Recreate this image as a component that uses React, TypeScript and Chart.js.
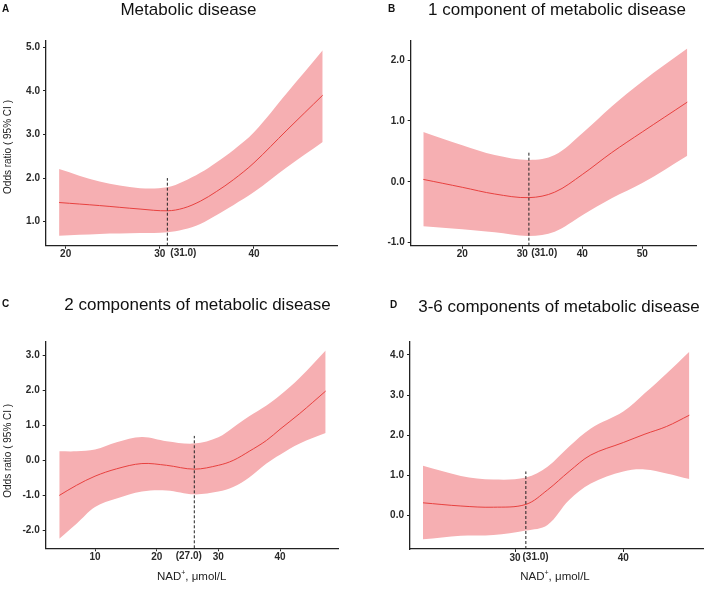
import { useEffect, useRef } from "react";
import { Chart, registerables } from "chart.js";

Chart.register(...registerables);

const FONT = "'Liberation Sans', Arial, Helvetica, sans-serif";
const BAND = "#F6AFB2";
const LINE = "#E8413F";
const INK = "#2a2a2a";

// ---- Panel A: Metabolic disease ----
const xA = [19.3, 23.6, 27.9, 30.8, 32.5, 34.3, 36.0, 37.8, 40.0, 43.5, 47.3];
const fitA = [1.44, 1.37, 1.29, 1.25, 1.31, 1.47, 1.69, 1.96, 2.35, 3.1, 3.9];
const upA = [2.21, 1.92, 1.77, 1.79, 1.92, 2.12, 2.36, 2.64, 3.05, 3.95, 4.93];
const lowA = [0.68, 0.72, 0.74, 0.76, 0.82, 0.95, 1.15, 1.38, 1.68, 2.25, 2.83];
const xTicksA = [20, 30, 40];
const yTicksA = [1, 2, 3, 4, 5];

// ---- Panel B: 1 component ----
const xB = [13.5, 20, 25.4, 31.1, 35.4, 40, 44.9, 50, 57.5];
const fitB = [0.04, -0.09, -0.2, -0.26, -0.17, 0.12, 0.48, 0.82, 1.31];
const upB = [0.82, 0.6, 0.44, 0.36, 0.44, 0.8, 1.24, 1.65, 2.19];
const lowB = [-0.73, -0.78, -0.83, -0.89, -0.82, -0.55, -0.27, -0.02, 0.43];
const xTicksB = [20, 30, 40, 50];
const yTicksB = [-1, 0, 1, 2];

// ---- Panel C: 2 components ----
const xC = [4.2, 7.0, 10, 13.5, 17.6, 21.6, 26.1, 30, 32.4, 35, 37.8, 40, 43.2, 47.4];
const fitC = [-1.01, -0.72, -0.46, -0.25, -0.1, -0.15, -0.26, -0.15, -0.01, 0.25, 0.56, 0.88, 1.33, 1.97];
const upC = [0.25, 0.25, 0.3, 0.51, 0.66, 0.54, 0.47, 0.65, 0.93, 1.25, 1.56, 1.85, 2.35, 3.13];
const lowC = [-2.25, -1.82, -1.34, -1.1, -0.9, -0.87, -0.98, -0.9, -0.77, -0.5, -0.1, 0.15, 0.47, 0.77];
const xTicksC = [10, 20, 30, 40];
const yTicksC = [-2, -1, 0, 1, 2, 3];

// ---- Panel D: 3-6 components ----
const xD = [21.5, 25, 28, 31, 33, 35, 37, 40, 42, 44, 46.1];
const fitD = [0.32, 0.24, 0.21, 0.28, 0.64, 1.1, 1.51, 1.82, 2.03, 2.22, 2.5];
const upD = [1.24, 0.99, 0.9, 0.95, 1.22, 1.72, 2.17, 2.59, 3.05, 3.54, 4.08];
const lowD = [-0.59, -0.5, -0.48, -0.37, -0.23, 0.39, 0.8, 1.1, 1.15, 1.05, 0.91];
const xTicksD = [30, 40];
const yTicksD = [0, 1, 2, 3, 4];

const TITLES = [
  "Metabolic disease",
  "1 component of metabolic disease",
  "2 components of metabolic disease",
  "3-6 components of metabolic disease",
];
const LETTERS = ["A", "B", "C", "D"];
const KNOTS = [30.8, 31.1, 26.1, 31.0];
const KNOT_TOPS = [2.0, 0.49, 0.69, 1.1];
const KNOT_LABELS = ["(31.0)", "(31.0)", "(27.0)", "(31.0)"];
const KNOT_LABEL_AT = [32.5, 33.65, 25.2, 31.9];
const X_RANGES = [
  [17.91, 48.82],
  [11.4, 59.07],
  [2.0, 49.45],
  [20.3, 47.39],
];
const Y_RANGES = [
  [0.45, 5.15],
  [-1.05, 2.32],
  [-2.52, 3.38],
  [-0.83, 4.33],
];
const Y_TITLE = "Odds ratio ( 95% CI )";
const X_TITLE_MAIN = "NAD";
const X_TITLE_SUP = "+";
const X_TITLE_REST = ", μmol/L";

type Layout = {
  left: number;
  top: number;
  w: number;
  h: number;
  areaL: number;
  areaT: number;
  areaR: number;
  areaB: number;
  letterX: number;
  letterY: number;
  titleX: number;
  titleY: number;
  yTitle: boolean;
  yTitleX: number;
  yTitleY: number;
  xTitle: boolean;
  xTitleX: number;
  xTitleY: number;
};

const LAYOUTS: Layout[] = [
  { left: 0, top: 0, w: 355, h: 292, areaL: 46, areaT: 40.7, areaR: 337, areaB: 245.7,
    letterX: 2, letterY: 11.7, titleX: 188.5, titleY: 15, yTitle: true, yTitleX: 8, yTitleY: 147,
    xTitle: false, xTitleX: 0, xTitleY: 0 },
  { left: 355, top: 0, w: 354, h: 292, areaL: 55.7, areaT: 40.7, areaR: 341.7, areaB: 245.7,
    letterX: 33, letterY: 11.7, titleX: 202, titleY: 15, yTitle: false, yTitleX: 0, yTitleY: 0,
    xTitle: false, xTitleX: 0, xTitleY: 0 },
  { left: 0, top: 292, w: 355, h: 300, areaL: 45.7, areaT: 49.7, areaR: 338.3, areaB: 256.3,
    letterX: 2, letterY: 14.5, titleX: 197.5, titleY: 18, yTitle: true, yTitleX: 8, yTitleY: 158.8,
    xTitle: true, xTitleX: 191.7, xTitleY: 285 },
  { left: 355, top: 292, w: 354, h: 300, areaL: 55, areaT: 49.7, areaR: 348.3, areaB: 257,
    letterX: 35, letterY: 15.7, titleX: 204, titleY: 19.5, yTitle: false, yTitleX: 0, yTitleY: 0,
    xTitle: true, xTitleX: 200, xTitleY: 285 },
];

type Series = { x: number[]; fit: number[]; up: number[]; low: number[]; xTicks: number[]; yTicks: number[] };
const SERIES: Series[] = [
  { x: xA, fit: fitA, up: upA, low: lowA, xTicks: xTicksA, yTicks: yTicksA },
  { x: xB, fit: fitB, up: upB, low: lowB, xTicks: xTicksB, yTicks: yTicksB },
  { x: xC, fit: fitC, up: upC, low: lowC, xTicks: xTicksC, yTicks: yTicksC },
  { x: xD, fit: fitD, up: upD, low: lowD, xTicks: xTicksD, yTicks: yTicksD },
];

function pts(xs: number[], ys: number[]) {
  return xs.map((x, i) => ({ x, y: ys[i] }));
}

function makeTextPlugin(i: number) {
  const L = LAYOUTS[i];
  return {
    id: "panelText" + i,
    afterDraw(chart: any) {
      const { ctx, chartArea } = chart;
      ctx.save();
      ctx.fillStyle = "#111";
      ctx.textBaseline = "alphabetic";
      ctx.textAlign = "left";
      ctx.font = `bold 10px ${FONT}`;
      ctx.fillText(LETTERS[i], L.letterX, L.letterY);
      ctx.font = `17px ${FONT}`;
      ctx.textAlign = "center";
      ctx.fillText(TITLES[i], L.titleX, L.titleY);

      const xs = chart.scales.x;
      ctx.fillStyle = INK;
      ctx.font = `bold 10px ${FONT}`;
      ctx.textBaseline = "top";
      ctx.fillText(KNOT_LABELS[i], xs.getPixelForValue(KNOT_LABEL_AT[i]), chartArea.bottom + 3);

      ctx.fillStyle = "#222";
      if (L.yTitle) {
        ctx.save();
        ctx.translate(L.yTitleX, L.yTitleY);
        ctx.rotate(-Math.PI / 2);
        ctx.textBaseline = "middle";
        ctx.textAlign = "center";
        ctx.font = `10px ${FONT}`;
        ctx.fillText(Y_TITLE, 0, 0);
        ctx.restore();
      }
      if (L.xTitle) {
        ctx.textBaseline = "middle";
        ctx.textAlign = "left";
        const big = `11.5px ${FONT}`;
        const small = `7px ${FONT}`;
        ctx.font = big;
        const w1 = ctx.measureText(X_TITLE_MAIN).width;
        const w3 = ctx.measureText(X_TITLE_REST).width;
        ctx.font = small;
        const w2 = ctx.measureText(X_TITLE_SUP).width;
        const total = w1 + w2 + w3;
        const x0 = L.xTitleX - total / 2;
        ctx.font = big;
        ctx.fillText(X_TITLE_MAIN, x0, L.xTitleY);
        ctx.font = small;
        ctx.fillText(X_TITLE_SUP, x0 + w1, L.xTitleY - 3.5);
        ctx.font = big;
        ctx.fillText(X_TITLE_REST, x0 + w1 + w2, L.xTitleY);
      }
      ctx.restore();
    },
  };
}

function makeConfig(i: number): any {
  const L = LAYOUTS[i];
  const S = SERIES[i];
  const [xmin, xmax] = X_RANGES[i];
  const [ymin, ymax] = Y_RANGES[i];
  const clear = "rgba(0,0,0,0)";
  const curve = { cubicInterpolationMode: "default", tension: 0.35 };
  return {
    type: "line",
    data: {
      datasets: [
        { data: pts(S.x, S.low), borderColor: clear, borderWidth: 1, pointRadius: 0, fill: false, ...curve, order: 3 },
        { data: pts(S.x, S.up), borderColor: clear, borderWidth: 1, pointRadius: 0, fill: "-1",
          backgroundColor: BAND, ...curve, order: 2 },
        { data: pts(S.x, S.fit), borderColor: LINE, borderWidth: 1, pointRadius: 0, fill: false, ...curve, order: 1 },
        { data: [ { x: KNOTS[i], y: ymin }, { x: KNOTS[i], y: KNOT_TOPS[i] } ], borderColor: "#222",
          borderWidth: 1, borderDash: [3, 2], pointRadius: 0, fill: false, tension: 0, order: 0 },
      ],
    },
    options: {
      responsive: false,
      animation: false,
      events: [],
      layout: { padding: { left: 0, top: L.areaT, right: L.w - L.areaR, bottom: 0 } },
      plugins: { legend: { display: false }, tooltip: { enabled: false }, title: { display: false } },
      scales: {
        x: {
          type: "linear",
          min: xmin,
          max: xmax,
          afterBuildTicks: (s: any) => { s.ticks = S.xTicks.map((v) => ({ value: v })); },
          afterFit: (s: any) => { s.height = L.h - L.areaB; },
          grid: { display: true, drawOnChartArea: false, drawTicks: true, tickLength: 3, color: "#222", lineWidth: 1 },
          border: { display: true, color: "#222", width: 1.3 },
          ticks: { font: { family: FONT, size: 10, weight: "bold" }, color: INK, padding: 0, maxRotation: 0, autoSkip: false,
            callback: (v: any) => String(v) },
        },
        y: {
          type: "linear",
          min: ymin,
          max: ymax,
          afterBuildTicks: (s: any) => { s.ticks = S.yTicks.map((v) => ({ value: v })); },
          afterFit: (s: any) => { s.width = L.areaL; },
          grid: { display: true, drawOnChartArea: false, drawTicks: true, tickLength: 3, color: "#222", lineWidth: 1 },
          border: { display: true, color: "#222", width: 1.3 },
          ticks: { font: { family: FONT, size: 10, weight: "bold" }, color: INK, padding: 3, autoSkip: false,
            callback: (v: any) => Number(v).toFixed(1) },
        },
      },
    },
    plugins: [makeTextPlugin(i)],
  };
}

function Panel({ i }: { i: number }) {
  const ref = useRef<HTMLCanvasElement | null>(null);
  const L = LAYOUTS[i];
  useEffect(() => {
    if (!ref.current) return;
    const chart = new Chart(ref.current, makeConfig(i));
    return () => chart.destroy();
  }, [i]);
  return (
    <canvas
      ref={ref}
      width={L.w}
      height={L.h}
      style={{ position: "absolute", left: L.left, top: L.top, width: L.w, height: L.h }}
    />
  );
}

export default function App() {
  return (
    <div style={{ position: "absolute", left: 0, top: 0, width: 709, height: 592, background: "#fff" }}>
      {[0, 1, 2, 3].map((i) => (
        <Panel key={i} i={i} />
      ))}
    </div>
  );
}
